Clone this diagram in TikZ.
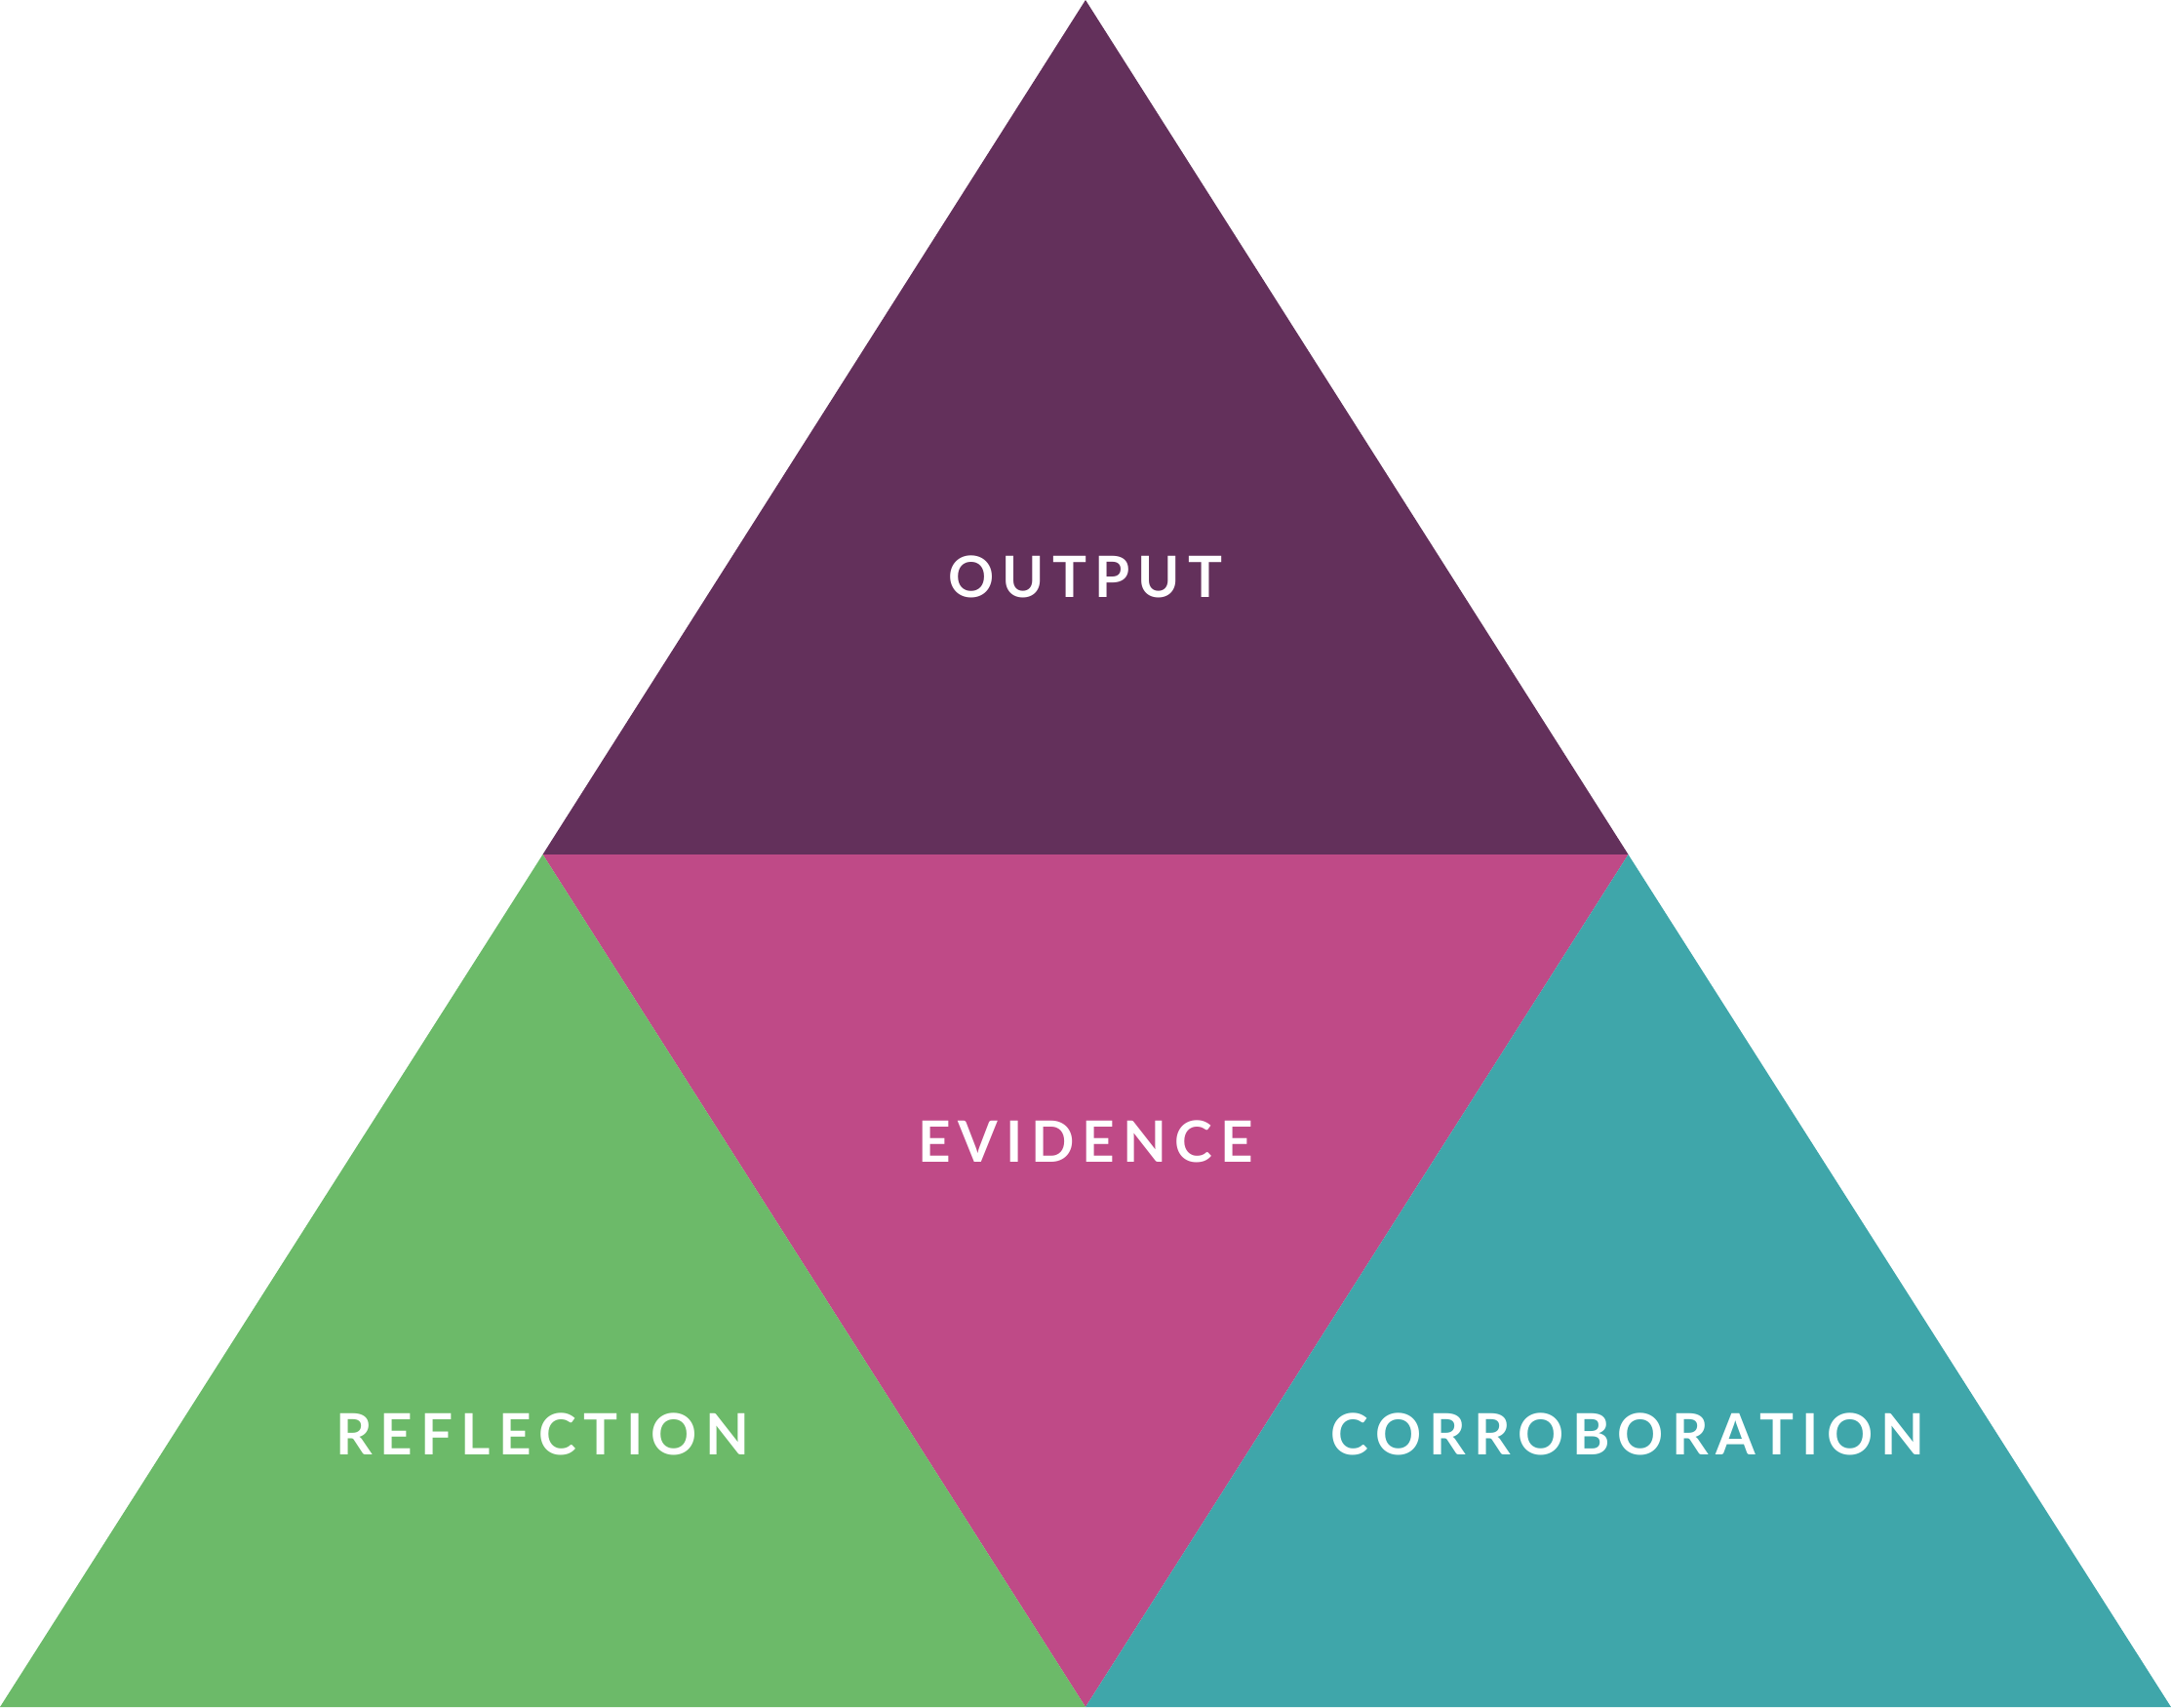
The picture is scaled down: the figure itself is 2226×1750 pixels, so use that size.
\documentclass[tikz,border=0pt]{standalone}
\usepackage{fontspec}
\usepackage{xcolor}
\newfontfamily\tagfont[LetterSpace=14]{Lato}
\definecolor{outputcol}{HTML}{63305B}
\definecolor{evidencecol}{HTML}{BF4A87}
\definecolor{reflectcol}{HTML}{6CBA69}
\definecolor{corrobcol}{HTML}{3FA6AA}
\tikzset{
	piece/.style={draw=none},
	tag/.style={text=white, font=\tagfont\bfseries\fontsize{14.6}{15}\selectfont, inner sep=0pt, anchor=center}
}

\begin{document}
\begin{tikzpicture}[x=0.25pt, y=0.25pt]
	\useasboundingbox (0,0) rectangle (2226,1750);
	% corners of the big triangle and the side midpoints
	\coordinate (bl)   at (0,0);
	\coordinate (br)   at (2226,0);
	\coordinate (apex) at (1113,1750);
	\coordinate (ml)   at (556.5,874);
	\coordinate (mr)   at (1669.5,874);
	\coordinate (mb)   at (1113,0);

	\fill [piece, outputcol]   (apex) -- (ml) -- (mr) -- cycle;
	\fill [piece, evidencecol] (ml) -- (mr) -- (mb) -- cycle;
	\fill [piece, reflectcol]  (bl) -- (mb) -- (ml) -- cycle;
	\fill [piece, corrobcol]   (mb) -- (br) -- (mr) -- cycle;

	\node (output)     at (1113,1159) [tag] {OUTPUT};
	\node (evidence)   at (1113,580)  [tag] {EVIDENCE};
	\node (reflection) at (556,280)   [tag] {REFLECTION};
	\node (corrob)     at (1669,280)  [tag] {CORROBORATION};
\end{tikzpicture}
\end{document}
